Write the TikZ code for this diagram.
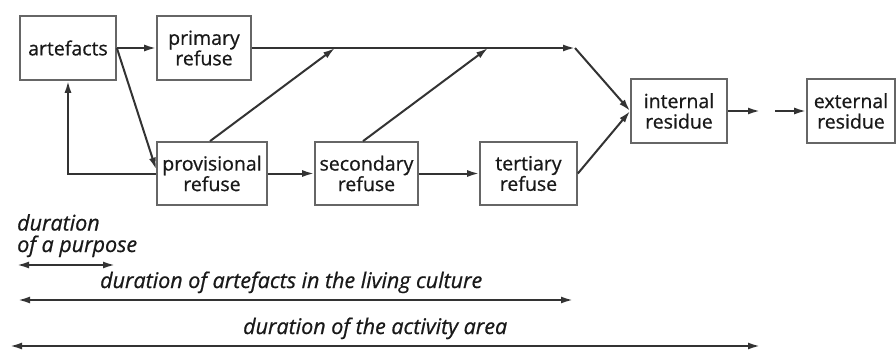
\documentclass[tikz,border=0pt]{standalone}
\usepackage{fontspec}
\setmainfont{Open Sans}[FakeBold=0.7]
\usetikzlibrary{arrows.meta,calc}
\begin{document}
\begin{tikzpicture}[x=1pt,y=-1pt,
  box/.style={draw=black!60,line width=1.7pt,inner sep=0pt,align=center,
    font=\fontsize{19.5}{20.5}\selectfont,text=black!90},
  tip/.tip={Latex[length=12pt,width=7pt]},
  arr/.style={draw=black!80,line width=2pt,-tip},
  span/.style={draw=black!80,line width=2pt,tip-tip},
  lbl/.style={font=\fontsize{21.5}{21.5}\selectfont\itshape,text=black!90,inner sep=0pt}]
\useasboundingbox (0,0) rectangle (896,349);

% stations of the refuse flow
\node[box,minimum width=96pt,minimum height=64pt] (art) at (68,48) {artefacts};
\node[box,minimum width=94pt,minimum height=64pt] (prim) at (204,48) {primary\\refuse};
\node[box,minimum width=110pt,minimum height=63pt] (prov) at (212,173.5) {provisional\\refuse};
\node[box,minimum width=103pt,minimum height=63pt] (sec) at (366.5,173.5) {secondary\\refuse};
\node[box,minimum width=97pt,minimum height=63pt] (tert) at (528.5,173.5) {tertiary\\refuse};
\node[box,minimum width=96pt,minimum height=64pt] (int) at (679,111) {internal\\residue};
\node[box,minimum width=88pt,minimum height=64pt] (ext) at (851,111) {external\\residue};

% junction points on the upper line
\coordinate (j1) at (575,48);
\coordinate (m1) at (335,48);
\coordinate (m2) at (488,48);
\coordinate (c1) at (760,111);
\coordinate (c2) at (775,111);

\draw[arr] (art.east) -- (prim.west);
\draw[arr] (art.east) -- ($(prov.west)+(0,-4)$);
\draw[arr] (prov.west) -| (art.south);
\draw[arr] (prim.east) -- (j1);
\draw[arr] (j1) -- (int.west);
\draw[arr] ($(prov.north)+(-2,0)$) -- (m1);
\draw[arr] ($(sec.north)+(-3.5,0)$) -- (m2);
\draw[arr] (prov.east) -- (sec.west);
\draw[arr] (sec.east) -- (tert.west);
\draw[arr] (tert.east) -- (int.west);
\draw[arr] (int.east) -- (c1);
\draw[arr] (c2) -- (ext.west);

% time spans
\node[lbl,anchor=base west,align=left] (t1) at (17,252) {duration\\of a purpose};
\coordinate (a1l) at (17,265);
\coordinate (a1r) at (115,265);
\draw[span] (a1l) -- (a1r);

\node[lbl,anchor=base west] (t2) at (100,288) {duration of artefacts in the living culture};
\coordinate (a2l) at (18,300);
\coordinate (a2r) at (573,300);
\draw[span] (a2l) -- (a2r);

\node[lbl,anchor=base west] (t3) at (243,334) {duration of the activity area};
\coordinate (a3l) at (10,346);
\coordinate (a3r) at (760,346);
\draw[span] (a3l) -- (a3r);
\end{tikzpicture}
\end{document}
